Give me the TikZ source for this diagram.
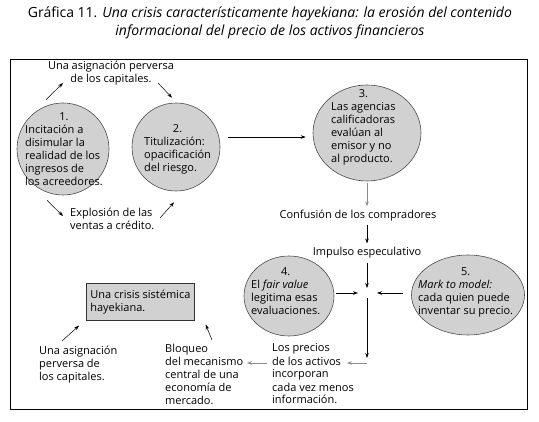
\documentclass[tikz,border=0pt]{standalone}
\usepackage{fontspec}
\setmainfont{Open Sans}
\usetikzlibrary{shapes.geometric, arrows.meta, calc}

\begin{document}
\begin{tikzpicture}[
    x=1pt, y=-1pt,
    every node/.style={inner sep=0pt, font=\fontsize{11}{13}\selectfont},
    bubble/.style={ellipse, draw=black!70, fill=black!18, line width=0.6pt},
    bubble_text/.style={anchor=base west},
    note/.style={align=left, anchor=base west},
    crisis_box/.style={rectangle, draw=black!80, fill=black!18, line width=0.6pt, align=left, inner xsep=4pt, anchor=north west, minimum width=100pt, minimum height=37pt},
    arrow/.style={line width=0.5pt, -{Stealth[length=5pt, width=3.5pt]}},
    grey_arrow/.style={arrow, draw=black!45}
]
\useasboundingbox (0,0) rectangle (539,422);

% Title and frame (base = last line)
\node[align=center, anchor=base, font=\fontsize{14}{18}\selectfont] (title) at (270,36) {Gráfica 11. \textit{Una crisis característicamente hayekiana: la erosión del contenido}\\\textit{informacional del precio de los activos financieros}};
\draw[line width=0.7pt] (10,59) rectangle (527,409);

% Bubbles
\node[bubble, minimum width=92pt, minimum height=92pt] (incitacion) at (63,149) {};
\node[bubble, minimum width=88pt, minimum height=88pt] (titulizacion) at (176,147) {};
\node[bubble, minimum width=108pt, minimum height=96pt] (agencias) at (367,133) {};
\node[bubble, minimum width=90pt, minimum height=80pt] (fairvalue) at (289,296) {};
\node[bubble, minimum width=113pt, minimum height=80pt] (marktomodel) at (468,295) {};

% Bubble texts
\node[bubble_text] (incitacion_text) at (25,121) {\begin{tabular}[t]{@{}l@{}}\multicolumn{1}{@{}c@{}}{1.}\\Incitación a\\disimular la\\realidad de los\\ingresos de\\los acreedores.\end{tabular}};
\node[bubble_text] (titulizacion_text) at (144,133) {\begin{tabular}[t]{@{}l@{}}\multicolumn{1}{@{}c@{}}{2.}\\Titulización:\\opacificación\\del riesgo.\end{tabular}};
\node[bubble_text] (agencias_text) at (331,98) {\begin{tabular}[t]{@{}l@{}}\multicolumn{1}{@{}c@{}}{3.}\\Las agencias\\calificadoras\\evalúan al\\emisor y no\\al producto.\end{tabular}};
\node[bubble_text] (fairvalue_text) at (251,276) {\begin{tabular}[t]{@{}l@{}}\multicolumn{1}{@{}c@{}}{4.}\\El \textit{fair value}\\legitima esas\\evaluaciones.\end{tabular}};
\node[bubble_text] (marktomodel_text) at (418,276) {\begin{tabular}[t]{@{}l@{}}\multicolumn{1}{@{}c@{}}{5.}\\\textit{Mark to model:}\\cada quien puede\\inventar su precio.\end{tabular}};

% Notes (placed at the baseline of their last line)
\node[align=center, anchor=base] (asig_top) at (111,83) {Una asignación perversa\\de los capitales.};
\node[note] (explosion) at (70,230) {Explosión de las\\ventas a crédito.};
\node[anchor=base] (confusion) at (358,219) {Confusión de los compradores};
\node[anchor=base] (impulso) at (367,256) {Impulso especulativo};
\node[note] (precios) at (272,404) {Los precios\\de los activos\\incorporan\\cada vez menos\\información.};
\node[note] (bloqueo) at (165,405) {Bloqueo\\del mecanismo\\central de una\\economía de\\mercado.};
\node[note] (asig_bottom) at (39,381) {Una asignación\\perversa de\\los capitales.};
\node[crisis_box] (crisis) at (86,283) {Una crisis sistémica\\hayekiana.};
\coordinate (hub) at (367,293);

% Upper cycle
\draw[arrow] ($(incitacion.north)+(-17,-3)$) -- ($(asig_top.base)+(-48,0)$);
\draw[arrow] ($(asig_top.base)+(47,0)$) -- ($(titulizacion.north)+(-4,-5)$);
\draw[arrow] ($(incitacion.south)+(-16,5)$) -- ($(explosion.base west)+(-7,-14)$);
\draw[arrow] ($(explosion.base west)+(90,-12)$) -- ($(titulizacion.south)+(-2,11)$);
\draw[arrow] ($(titulizacion.east)+(8,-10)$) -- ($(agencias.west)+(-7,4)$);

% Vertical chain
\draw[grey_arrow] ($(agencias.south)+(0,2)$) -- ($(hub |- confusion.north)+(0,-4)$);
\draw[arrow] ($(hub |- confusion.south)+(0,3)$) -- ($(hub |- impulso.north)+(0,-4)$);
\draw[arrow] ($(hub |- impulso.south)+(0,4)$) -- ($(hub)+(0,-5)$);
\draw[arrow] ($(fairvalue.east |- hub)+(2,0)$) -- ($(hub)+(-9,0)$);
\draw[arrow] ($(marktomodel.west |- hub)+(-8,0)$) -- ($(hub)+(10,0)$);
\draw[arrow] ($(hub)+(0,5)$) -- ($(hub |- precios.base)+(0,-46)$);
\draw[grey_arrow] ($(hub |- precios.base)+(0,-41)$) -- ($(hub |- precios.base)+(-20,-41)$);

% Lower part
\draw[grey_arrow] ($(precios.base west)+(-5,-41)$) -- ($(bloqueo.base west)+(82,-42)$);
\draw[arrow] ($(asig_bottom.base west)+(23,-40)$) -- ($(crisis.south west)+(-7,5)$);
\draw[arrow] ($(bloqueo.base west)+(47,-65)$) -- ($(crisis.south east)+(11,4)$);

\end{tikzpicture}
\end{document}
